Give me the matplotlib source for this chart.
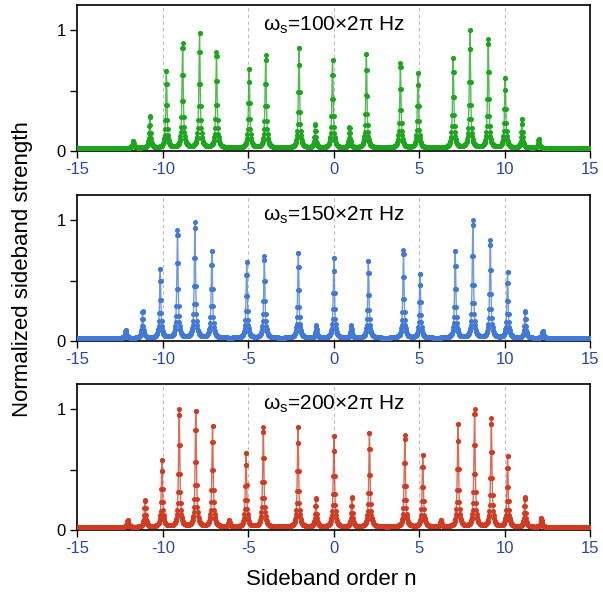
import numpy as np
import matplotlib
matplotlib.use("Agg")
import matplotlib.pyplot as plt
from matplotlib.ticker import MultipleLocator

plt.rcParams['font.family'] = ['Liberation Sans', 'DejaVu Sans']
plt.rcParams['mathtext.fontset'] = 'custom'
plt.rcParams['mathtext.rm'] = 'Liberation Sans'
plt.rcParams['axes.unicode_minus'] = False

# peak positions / heights
pos_100 = [-11.75, -10.77, -9.80, -8.85, -7.86, -6.87, -4.96, -3.99, -2.04, -1.09,
           -0.08, 0.91, 1.90, 3.89, 4.92, 6.98, 7.96, 9.03, 10.02, 11.00, 11.98]
amp_100 = [0.08, 0.29, 0.66, 0.89, 0.97, 0.82, 0.68, 0.79, 0.85, 0.22,
           0.75, 0.195, 0.80, 0.73, 0.645, 0.77, 1.00, 0.925, 0.60, 0.26, 0.10]

pos_150 = [-12.18, -11.19, -10.16, -9.15, -8.13, -7.14, -5.10, -4.07, -2.08, -1.03,
           0.00, 1.01, 2.02, 4.07, 5.04, 7.10, 8.13, 9.15, 10.16, 11.19, 12.22]
amp_150 = [0.09, 0.25, 0.59, 0.92, 0.98, 0.745, 0.65, 0.70, 0.73, 0.13,
           0.69, 0.13, 0.665, 0.75, 0.55, 0.74, 1.00, 0.83, 0.57, 0.25, 0.08]

pos_200 = [-12.06, -11.05, -10.06, -9.05, -8.08, -7.10, -6.13, -5.14, -4.13, -2.10,
           -1.05, 0.00, 1.05, 2.08, 4.15, 5.20, 6.25, 7.26, 8.23, 9.21, 10.16,
           11.17, 12.14]
amp_200 = [0.085, 0.25, 0.58, 0.995, 0.98, 0.86, 0.08, 0.635, 0.85, 0.855,
           0.265, 0.78, 0.27, 0.80, 0.786, 0.62, 0.08, 0.877, 1.00, 0.92, 0.61,
           0.27, 0.095]

labels = ['100', '150', '200']
colors = ['#1ea51e', '#4279d8', '#d23a22']
baseline = 0.025
hwhm = 0.045


def spectrum(pos, amp):
    n = np.union1d(np.arange(-15, 15.001, 0.02), pos)
    y = np.full_like(n, baseline)
    for p, a in zip(pos, amp):
        y += (a - baseline) * hwhm**2 / ((n - p)**2 + hwhm**2)
    return n, y


fig = plt.figure(figsize=(6.03, 5.99), dpi=100)
bottoms = [0.748, 0.4307, 0.1152]
data = [(pos_100, amp_100), (pos_150, amp_150), (pos_200, amp_200)]

for i in range(3):
    ax = fig.add_axes([0.1285, bottoms[i], 0.8504, 0.2437])
    n, y = spectrum(*data[i])
    ax.plot(n, y, '-', color=colors[i], lw=1.0, alpha=0.75, zorder=2)
    ax.plot(n, y, 'o', color=colors[i], ms=3.6, mec='none', zorder=3)
    for g in [-10, -5, 0, 5, 10]:
        ax.axvline(g, color='#bbbbbb', ls=(0, (3, 3)), lw=0.8, zorder=1)
    ax.set_xlim(-15, 15)
    ax.set_ylim(0, 1.21)
    ax.set_xticks([-15, -10, -5, 0, 5, 10, 15])
    ax.set_yticks([0, 1])
    ax.yaxis.set_minor_locator(MultipleLocator(0.5))
    ax.tick_params(which='both', direction='out', top=False, right=False,
                   width=1.0, labelsize=12)
    ax.tick_params(which='major', length=5)
    ax.tick_params(which='minor', length=5)
    ax.tick_params(axis='x', labelcolor='#2b47a8', pad=3)
    for s in ax.spines.values():
        s.set_linewidth(1.2)
    ax.text(0, 1.0, r'ω$_\mathregular{s}$=' + labels[i] + '×2π Hz',
            ha='center', va='baseline', fontsize=15)

fig.text(0.037, 0.55, 'Normalized sideband strength', rotation=90,
         ha='center', va='center', fontsize=16)
fig.text(0.55, 0.032, 'Sideband order n', ha='center', va='center', fontsize=16)

fig.savefig('out.png', dpi=100)
